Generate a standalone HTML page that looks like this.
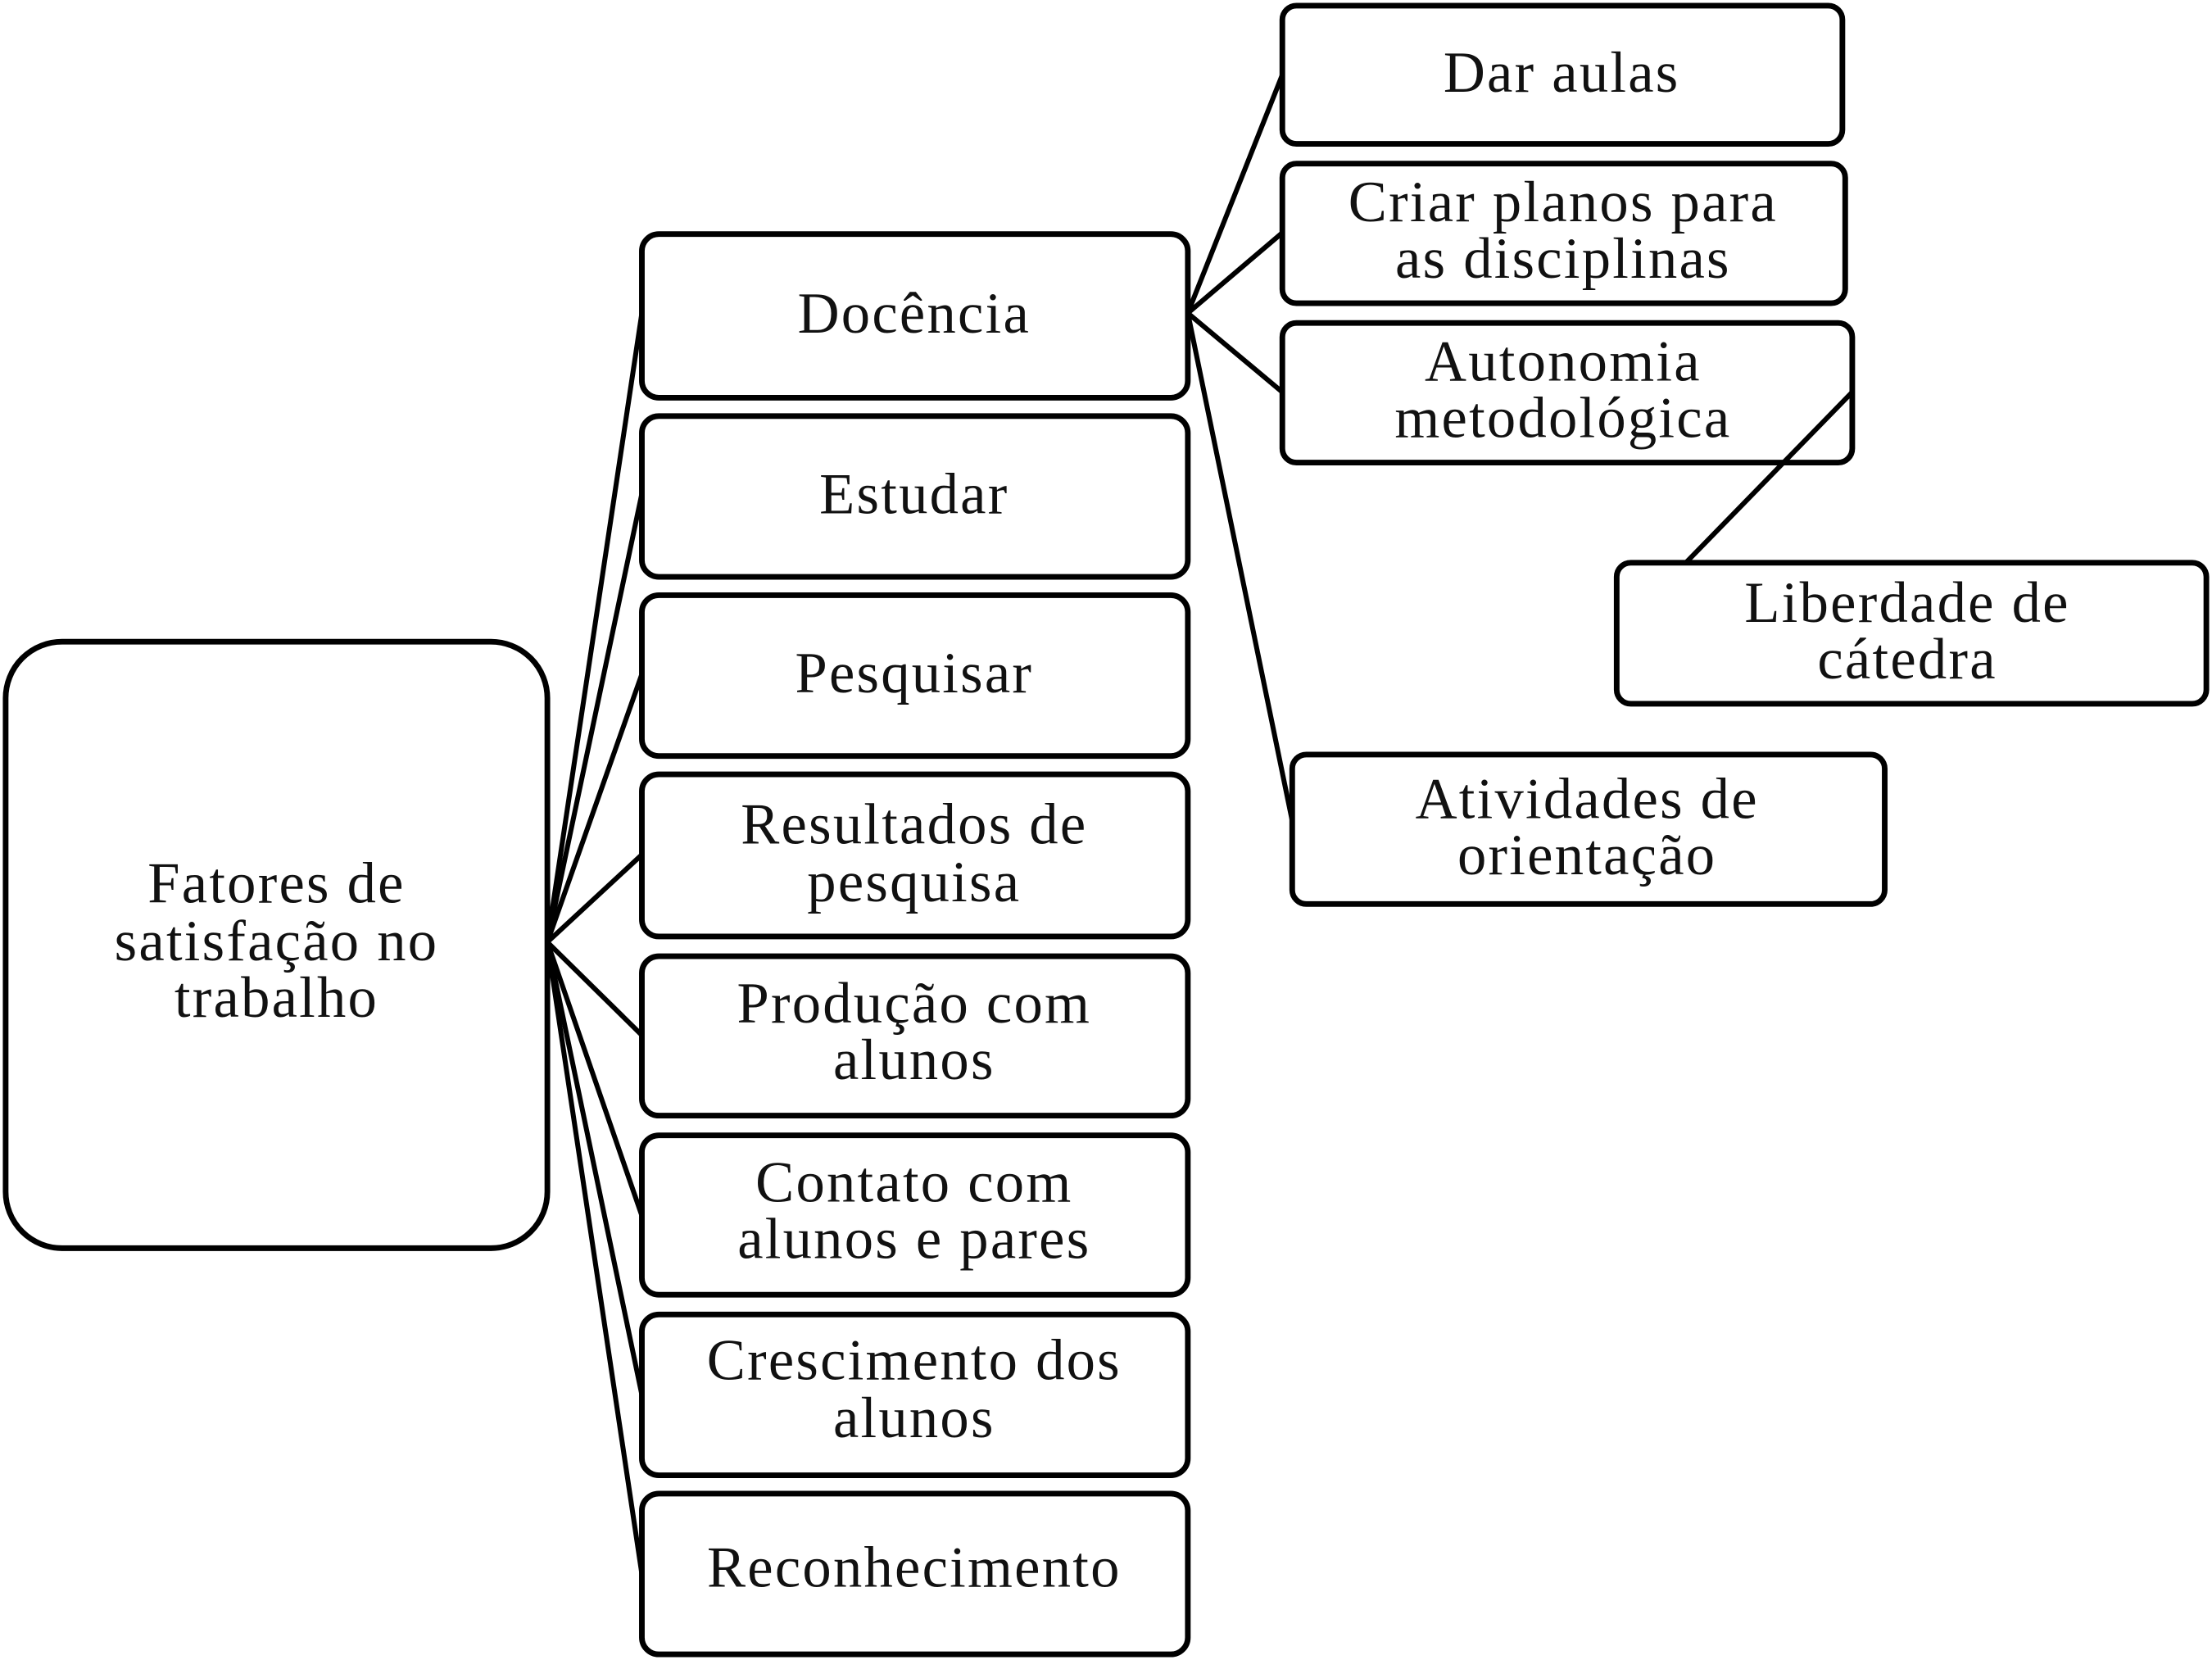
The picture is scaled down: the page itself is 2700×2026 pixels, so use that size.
<!DOCTYPE html>
<html><head><meta charset="utf-8"><style>
html,body{margin:0;padding:0;background:#fff;}
svg{display:block;}
text{font-family:"Liberation Serif","DejaVu Serif",serif;font-size:41px;fill:#111;text-anchor:middle;letter-spacing:1.3px;}
</style></head><body>
<svg width="2700" height="2026" viewBox="0 0 1568 1177" preserveAspectRatio="none" xmlns="http://www.w3.org/2000/svg">
<g fill="none" stroke="#000" stroke-width="3.5">
<line x1="388" y1="668" x2="455" y2="222"/>
<line x1="388" y1="668" x2="455" y2="350"/>
<line x1="388" y1="668" x2="455" y2="478"/>
<line x1="388" y1="668" x2="455" y2="606"/>
<line x1="388" y1="668" x2="455" y2="734"/>
<line x1="388" y1="668" x2="455" y2="862"/>
<line x1="388" y1="668" x2="455" y2="989"/>
<line x1="388" y1="668" x2="455" y2="1116"/>
<line x1="842" y1="222" x2="909" y2="53"/>
<line x1="842" y1="222" x2="909" y2="165"/>
<line x1="842" y1="222" x2="909" y2="278"/>
<line x1="842" y1="222" x2="916" y2="582"/>
</g>
<g fill="#fff" stroke="#000" stroke-width="4">
<rect x="4" y="455" width="384" height="430" rx="40"/>
<rect x="455" y="166" width="387" height="116" rx="12"/>
<rect x="455" y="295" width="387" height="114" rx="12"/>
<rect x="455" y="422" width="387" height="114" rx="12"/>
<rect x="455" y="549" width="387" height="115" rx="12"/>
<rect x="455" y="678" width="387" height="113" rx="12"/>
<rect x="455" y="805" width="387" height="113" rx="12"/>
<rect x="455" y="932" width="387" height="114" rx="12"/>
<rect x="455" y="1059" width="387" height="114" rx="12"/>
<rect x="909" y="4" width="397" height="98" rx="10"/>
<rect x="909" y="116" width="399" height="99" rx="10"/>
<rect x="909" y="229" width="404" height="99" rx="10"/>
<rect x="1146" y="399" width="418" height="100" rx="10"/>
<rect x="916" y="535" width="420" height="106" rx="10"/>
</g>
<line x1="1313" y1="278" x2="1195" y2="399" stroke="#000" stroke-width="3.5"/>
<text x="196" y="640">Fatores de</text>
<text x="196" y="681">satisfação no</text>
<text x="196" y="721">trabalho</text>
<text x="648" y="236">Docência</text>
<text x="648" y="364">Estudar</text>
<text x="648" y="491">Pesquisar</text>
<text x="648" y="598">Resultados de</text>
<text x="648" y="639">pesquisa</text>
<text x="648" y="725">Produção com</text>
<text x="648" y="765">alunos</text>
<text x="648" y="852">Contato com</text>
<text x="648" y="892">alunos e pares</text>
<text x="648" y="978">Crescimento dos</text>
<text x="648" y="1019">alunos</text>
<text x="648" y="1125">Reconhecimento</text>
<text x="1107" y="65">Dar aulas</text>
<text x="1108" y="157">Criar planos para</text>
<text x="1108" y="197">as disciplinas</text>
<text x="1108" y="270">Autonomia</text>
<text x="1108" y="310">metodológica</text>
<text x="1352" y="441">Liberdade de</text>
<text x="1352" y="481">cátedra</text>
<text x="1125" y="580">Atividades de</text>
<text x="1125" y="620">orientação</text>
</svg>
</body></html>
